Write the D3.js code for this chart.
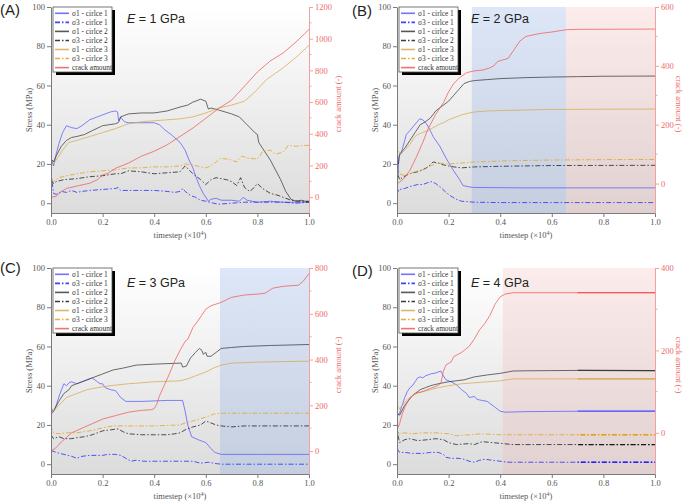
<!DOCTYPE html>
<html><head><meta charset="utf-8">
<script src="https://cdn.jsdelivr.net/npm/d3@7"></script>
<style>
body{margin:0;background:#fff}
svg text{font-family:"Liberation Serif","Times New Roman",serif}
</style>
</head><body>
<svg id="c" width="685" height="501"></svg>
<script>
// ---------- DATA ----------
const panelIds = ["A","B","C","D"];
const moduli = ["1","2","3","4"];
const crackMax = [1200, 600, 800, 400];
const legendLabels = ["σ1 - cirlce 1","σ3 - cirlce 1","σ1 - cirlce 2","σ3 - cirlce 2","σ1 - cirlce 3","σ3 - cirlce 3","crack amount"];
const xTicks = [0,0.2,0.4,0.6,0.8,1.0];
const yTicks = [0,20,40,60,80,100];

// Panel A (E = 1 GPa)
const A_s1c1 = [[0,20],[0.005,21],[0.01,19],[0.015,22],[0.02,25],[0.03,30],[0.045,36],[0.06,39.5],[0.07,39],[0.08,38.5],[0.1,38],[0.12,39.5],[0.15,42.5],[0.18,44],[0.2,45],[0.23,46.5],[0.25,47],[0.258,46.5],[0.262,42],[0.27,44],[0.275,43],[0.285,41.5],[0.3,41],[0.35,41],[0.4,41],[0.42,40],[0.44,37.5],[0.47,34.5],[0.5,31],[0.52,27],[0.535,22],[0.55,18],[0.56,14],[0.575,9],[0.59,5],[0.61,1],[0.62,2],[0.64,2.5],[0.66,1.5],[0.7,1.5],[0.73,1],[0.745,3],[0.76,1.5],[0.8,0.5],[0.85,1],[0.9,0.5],[0.95,0.5],[1,0.5]];
const A_s3c1 = [[0,16],[0.005,10],[0.01,5],[0.02,4.5],[0.04,6],[0.06,5.5],[0.08,6.5],[0.1,5.5],[0.12,6],[0.15,6.5],[0.2,7],[0.25,7.5],[0.26,8],[0.27,6.5],[0.3,6.5],[0.35,6.5],[0.4,6.5],[0.45,6],[0.48,5.5],[0.5,6],[0.51,7.5],[0.52,6],[0.54,4],[0.56,3],[0.58,1.5],[0.6,1],[0.63,0],[0.65,-0.5],[0.7,0],[0.75,0.5],[0.8,0.5],[0.85,0.5],[0.9,0.5],[0.95,0],[1,0.5]];
const A_s1c2 = [[0,20],[0.005,22],[0.01,21],[0.02,24],[0.04,29],[0.06,32],[0.08,33.5],[0.1,34],[0.13,35],[0.16,37],[0.2,39.5],[0.25,40.5],[0.26,41],[0.265,42],[0.27,44],[0.28,44.5],[0.3,45.5],[0.35,46],[0.4,46],[0.45,47],[0.5,49],[0.53,50],[0.55,51.5],[0.58,53],[0.6,52],[0.61,48],[0.62,48.5],[0.65,47.5],[0.7,45.5],[0.73,44],[0.76,40],[0.79,36],[0.8,35],[0.805,31],[0.82,28],[0.85,22],[0.87,17],[0.89,12],[0.91,6],[0.93,2],[0.95,1],[0.97,1.5],[1,0.5]];
const A_s3c2 = [[0,12],[0.01,10],[0.02,11],[0.05,12],[0.1,12.5],[0.15,13.5],[0.2,14],[0.25,15],[0.27,15],[0.3,16.5],[0.35,16],[0.4,15],[0.45,15.5],[0.5,16],[0.52,19],[0.55,15],[0.58,12],[0.6,9.5],[0.62,12],[0.64,13],[0.68,12],[0.7,11],[0.72,9],[0.735,13],[0.75,8],[0.77,6],[0.78,7],[0.8,10],[0.82,7.5],[0.85,5],[0.88,4],[0.9,3],[0.93,1.5],[0.96,1],[1,1]];
const A_s1c3 = [[0,19],[0.01,20],[0.03,24],[0.05,28],[0.07,31],[0.1,32],[0.15,34],[0.2,36],[0.25,38],[0.3,40.5],[0.35,41.5],[0.4,42],[0.45,42.5],[0.5,43],[0.55,44],[0.6,46],[0.65,48.5],[0.7,50],[0.75,52],[0.78,55.5],[0.8,58],[0.835,63],[0.9,69],[0.96,75.5],[1,80.5]];
const A_s3c3 = [[0,12],[0.01,11],[0.03,13],[0.06,14],[0.1,15],[0.15,16],[0.2,16.5],[0.25,17],[0.3,18],[0.35,18],[0.4,18.5],[0.45,18.5],[0.5,19],[0.52,20],[0.55,19.5],[0.58,18.5],[0.6,18],[0.62,19],[0.64,21],[0.66,23],[0.68,22.5],[0.7,22],[0.72,21],[0.74,24],[0.76,23],[0.8,22.5],[0.81,24],[0.82,26.5],[0.85,27],[0.87,25],[0.9,26],[0.92,29.5],[0.95,29],[0.98,29.5],[1,29.5]];
const A_crack = [[0,0],[0.02,5],[0.04,35],[0.06,55],[0.1,70],[0.15,88],[0.18,110],[0.2,140],[0.22,150],[0.25,182],[0.3,215],[0.35,258],[0.4,290],[0.45,330],[0.5,383],[0.55,436],[0.6,498],[0.65,560],[0.7,612],[0.75,700],[0.8,790],[0.85,860],[0.9,910],[0.95,980],[1,1058]];

// Panel B (E = 2 GPa)
const B_s1c1 = [[0,27],[0.004,15],[0.008,24],[0.015,25],[0.03,32],[0.036,35],[0.05,37],[0.075,41],[0.088,43],[0.1,42.5],[0.114,40.5],[0.125,38],[0.14,34],[0.166,29],[0.19,23],[0.217,17],[0.243,12],[0.256,9],[0.28,8.3],[0.3,8],[0.5,7.8],[1,7.8]];
const B_s3c1 = [[0,8],[0.005,6],[0.01,7],[0.03,7.5],[0.05,8.5],[0.08,9.5],[0.1,9.5],[0.12,10.5],[0.135,11],[0.15,10],[0.17,8],[0.19,5.5],[0.21,3.5],[0.23,2],[0.25,1],[0.28,0.7],[0.3,0.5],[0.4,0.3],[1,0.3]];
const B_s1c2 = [[0,24],[0.005,20],[0.01,25],[0.03,28],[0.05,32],[0.07,36],[0.09,40],[0.11,41.5],[0.13,43.5],[0.15,47],[0.17,49],[0.2,52],[0.22,55],[0.24,58],[0.26,61],[0.28,62],[0.3,62.5],[0.35,63],[0.4,63.5],[0.5,64],[0.6,64.3],[0.7,64.5],[0.8,64.7],[1,64.8]];
const B_s3c2 = [[0,20],[0.005,14],[0.01,12],[0.02,13],[0.04,14.5],[0.06,15.5],[0.08,16],[0.1,17],[0.12,18.5],[0.14,21],[0.16,20.5],[0.18,19.5],[0.2,19],[0.22,18.5],[0.25,18],[0.3,18.5],[0.4,18.8],[0.5,19],[0.6,19.2],[1,19.3]];
const B_s1c3 = [[0,27],[0.005,26.5],[0.015,25],[0.03,27],[0.05,30],[0.07,34],[0.08,35],[0.1,36],[0.12,37],[0.14,38.5],[0.16,40],[0.18,41],[0.2,42.5],[0.22,43.5],[0.25,45],[0.28,46],[0.3,46.5],[0.35,47],[0.4,47.2],[0.5,47.5],[0.6,47.8],[0.8,47.9],[1,48]];
const B_s3c3 = [[0,20],[0.005,17],[0.01,15],[0.03,14],[0.05,15],[0.08,16.5],[0.1,17],[0.13,19],[0.16,20.5],[0.2,20],[0.25,20.5],[0.3,21],[0.4,21.5],[0.5,21.8],[0.6,22],[0.8,22.2],[1,22.3]];
const B_crack = [[0,0],[0.01,5],[0.03,20],[0.05,45],[0.075,90],[0.1,140],[0.12,185],[0.15,235],[0.18,275],[0.2,312],[0.22,340],[0.243,360],[0.27,377],[0.3,383],[0.334,386],[0.36,393],[0.375,400],[0.39,415],[0.41,420],[0.43,425],[0.45,450],[0.476,484],[0.5,500],[0.554,510],[0.6,515],[0.657,523],[0.7,524],[1,525]];

// Panel C (E = 3 GPa)
const C_s1c1 = [[0,29],[0.005,26],[0.01,27],[0.02,30],[0.035,36],[0.05,41],[0.06,40],[0.07,41.5],[0.08,42],[0.1,41],[0.12,42],[0.14,43],[0.16,44],[0.18,42],[0.19,41],[0.2,41],[0.21,39],[0.23,38],[0.25,37.5],[0.27,34],[0.29,32],[0.35,32],[0.45,32.5],[0.51,32.5],[0.52,27],[0.53,20],[0.545,14],[0.57,12.5],[0.6,11],[0.62,8],[0.635,6],[0.66,5],[0.8,5],[1,5]];
const C_s3c1 = [[0,7],[0.02,6],[0.05,5],[0.08,4],[0.1,3],[0.12,4],[0.15,4.5],[0.2,4.5],[0.22,5],[0.25,5],[0.27,4.5],[0.29,3],[0.31,1.5],[0.33,2],[0.36,1.5],[0.4,1.5],[0.45,1.5],[0.5,1.5],[0.55,1.5],[0.58,0.5],[0.61,1],[0.64,0.3],[0.66,0],[0.8,0],[1,0]];
const C_s1c2 = [[0,28],[0.01,27],[0.03,32],[0.05,36],[0.07,38],[0.08,40],[0.1,41],[0.12,42],[0.14,43],[0.16,44],[0.2,46],[0.24,48],[0.28,49],[0.33,50.5],[0.4,51],[0.5,51.5],[0.505,51.5],[0.51,49.5],[0.525,50],[0.54,54],[0.56,57],[0.575,59],[0.585,58],[0.59,56],[0.6,57],[0.605,55],[0.62,55],[0.64,57],[0.66,59],[0.7,59.5],[0.75,60],[0.85,60.5],[1,61]];
const C_s3c2 = [[0,15],[0.01,13],[0.03,14],[0.05,13],[0.08,13],[0.1,13.5],[0.13,14],[0.16,15],[0.2,17],[0.23,17.5],[0.26,18],[0.28,16.5],[0.3,15.5],[0.35,15],[0.4,15],[0.45,15],[0.48,15.5],[0.5,16],[0.52,17.5],[0.55,19],[0.58,20],[0.6,22],[0.62,21],[0.64,20],[0.66,19.5],[0.7,19],[0.75,19.5],[0.85,19.5],[1,19.5]];
const C_s1c3 = [[0,29],[0.01,27],[0.03,30],[0.06,34],[0.1,36],[0.14,38],[0.18,39],[0.23,40],[0.3,41],[0.4,42],[0.5,42.5],[0.53,43.5],[0.56,45],[0.6,47],[0.63,49],[0.66,50.5],[0.7,51.5],[0.8,52],[0.9,52.3],[1,52.5]];
const C_s3c3 = [[0,20],[0.005,17],[0.01,16],[0.03,15.5],[0.06,16],[0.1,16],[0.15,17],[0.2,18.5],[0.24,19.5],[0.3,19.5],[0.4,19.5],[0.5,20],[0.52,21],[0.55,22],[0.6,24],[0.63,25.5],[0.66,26],[0.7,26],[0.8,26],[1,26]];
const C_crack = [[0,0],[0.02,15],[0.04,40],[0.06,60],[0.08,80],[0.1,90],[0.13,105],[0.16,120],[0.2,140],[0.25,155],[0.3,170],[0.35,178],[0.39,181],[0.4,186],[0.41,205],[0.42,240],[0.44,290],[0.46,340],[0.48,395],[0.5,440],[0.52,480],[0.53,488],[0.55,540],[0.57,570],[0.6,620],[0.62,635],[0.66,650],[0.7,672],[0.75,682],[0.8,686],[0.83,690],[0.86,712],[0.9,720],[0.96,725],[0.98,745],[1,776]];

// Panel D (E = 4 GPa)
const D_s1c1 = [[0,27],[0.005,25],[0.01,26],[0.02,30],[0.03,34],[0.04,37],[0.05,39],[0.06,40],[0.07,42],[0.08,44],[0.09,44.5],[0.1,44],[0.11,45],[0.13,46],[0.15,46.5],[0.17,47.5],[0.175,46],[0.19,43],[0.21,42],[0.23,40.5],[0.25,38],[0.27,36],[0.28,34],[0.3,34.5],[0.31,33],[0.33,32.5],[0.35,32],[0.36,31],[0.38,29],[0.4,27],[0.42,26.5],[0.5,26.8],[0.7,27],[1,27]];
const D_s3c1 = [[0,8],[0.005,7],[0.01,6],[0.03,6],[0.06,5.5],[0.1,5.5],[0.13,6],[0.16,6],[0.18,5],[0.19,3.5],[0.21,3],[0.24,3],[0.26,2.5],[0.28,1.5],[0.3,1],[0.32,2],[0.34,2.5],[0.37,2],[0.4,1.5],[0.43,1],[0.5,1],[1,1]];
const D_s1c2 = [[0,26],[0.01,25],[0.03,30],[0.06,35],[0.09,38],[0.11,39],[0.13,40],[0.16,41],[0.2,42],[0.26,43],[0.3,44.5],[0.35,45.5],[0.4,46.3],[0.45,47.5],[0.5,47.6],[0.6,47.7],[0.7,47.8],[1,47.7]];
const D_s3c2 = [[0,20],[0.005,14],[0.01,11],[0.03,12.5],[0.05,13],[0.08,12],[0.12,12.5],[0.15,13],[0.18,12.5],[0.2,11],[0.23,10],[0.28,10.5],[0.3,10],[0.33,11.5],[0.37,11],[0.41,10.5],[0.45,10],[0.5,10],[1,10]];
const D_s1c3 = [[0,30],[0.01,28],[0.02,30],[0.05,34],[0.08,36.5],[0.1,37],[0.13,38],[0.16,39],[0.2,40],[0.25,41],[0.3,41.5],[0.35,42],[0.4,42.5],[0.45,43.5],[0.5,43.5],[0.7,43.5],[1,43.5]];
const D_s3c3 = [[0,18],[0.005,15],[0.01,15.5],[0.03,16],[0.06,15.5],[0.1,16],[0.15,16],[0.2,15.5],[0.23,14.5],[0.28,15],[0.33,15.5],[0.4,15],[0.5,15],[1,15]];
const D_crack = [[0,10],[0.005,14],[0.01,22],[0.02,45],[0.03,62],[0.05,85],[0.07,95],[0.1,100],[0.13,108],[0.15,112],[0.17,120],[0.18,150],[0.19,165],[0.21,172],[0.22,185],[0.25,195],[0.28,210],[0.3,228],[0.32,250],[0.34,265],[0.36,285],[0.38,312],[0.4,330],[0.42,337],[0.45,340],[0.7,340],[1,340]];

// shaded stages [start, end, kind]
const shadesA = [];
const shadesB = [[0.29,0.655,"blue"],[0.655,1.0,"pink"]];
const shadesC = [[0.655,1.0,"blue"]];
const shadesD = [[0.41,1.0,"pink"]];

// ---------- LAYOUT / STYLE ----------
const W = 258, H = 206;
const layout = [
  {px:51,  py:7,   lab:[0,15],    eLab:[127,23],  rot:-90, rx:341},
  {px:397, py:7,   lab:[352,16],  eLab:[471,23],  rot:90,  rx:676},
  {px:51,  py:268, lab:[0,273],   eLab:[127,287], rot:-90, rx:341},
  {px:397, py:268, lab:[352,276], eLab:[471,287], rot:90,  rx:676}
];
const dd = "5,2,1.5,2";
const styles = [
  {c:"#5a5aff", d:null},
  {c:"#2020ff", d:dd},
  {c:"#3c3c3c", d:null},
  {c:"#1a1a1a", d:dd},
  {c:"#d6aa50", d:null},
  {c:"#e2a018", d:dd},
  {c:"#f05a5a", d:null}
];
const panelData = [
  {series:[A_s1c1,A_s3c1,A_s1c2,A_s3c2,A_s1c3,A_s3c3], crack:A_crack, shades:shadesA},
  {series:[B_s1c1,B_s3c1,B_s1c2,B_s3c2,B_s1c3,B_s3c3], crack:B_crack, shades:shadesB},
  {series:[C_s1c1,C_s3c1,C_s1c2,C_s3c2,C_s1c3,C_s3c3], crack:C_crack, shades:shadesC},
  {series:[D_s1c1,D_s3c1,D_s1c2,D_s3c2,D_s1c3,D_s3c3], crack:D_crack, shades:shadesD}
];

const svg = d3.select("#c");
const defs = svg.append("defs");
const grad = defs.append("linearGradient").attr("id","bg").attr("x1",0).attr("y1",0).attr("x2",0).attr("y2",1);
grad.append("stop").attr("offset","0%").attr("stop-color","#ffffff");
grad.append("stop").attr("offset","100%").attr("stop-color","#dcdcdc");

panelIds.forEach((id, i) => {
  const L = layout[i], P = panelData[i];
  const x = d3.scaleLinear().domain([0,1]).range([L.px, L.px+W]);
  const y = d3.scaleLinear().domain([-5,100]).range([L.py+H, L.py]);
  const yr = d3.scaleLinear().domain([-100, crackMax[i]]).range([L.py+H, L.py]);
  const g = svg.append("g");

  defs.append("clipPath").attr("id","clip"+id)
    .append("rect").attr("x",L.px).attr("y",L.py).attr("width",W).attr("height",H);
  defs.append("clipPath").attr("id","clipLate"+id)
    .append("rect").attr("x",x(0.7)).attr("y",L.py).attr("width",x(1)-x(0.7)).attr("height",H);

  g.append("rect").attr("x",L.px).attr("y",L.py).attr("width",W).attr("height",H).attr("fill","url(#bg)");
  P.shades.forEach(s => {
    g.append("rect").attr("x",x(s[0])).attr("y",L.py).attr("width",x(s[1])-x(s[0])).attr("height",H)
      .attr("fill", s[2]==="blue" ? "#8fb0e8" : "#f6a8a8")
      .attr("opacity", s[2]==="blue" ? 0.3 : 0.22);
  });

  const line = d3.line().x(d=>x(d[0])).y(d=>y(d[1]));
  const lineR = d3.line().x(d=>x(d[0])).y(d=>yr(d[1]));
  const lg = g.append("g").attr("clip-path","url(#clip"+id+")");
  function drawLines(target, op, sw){
    P.series.forEach((s, k) => {
      target.append("path").attr("d", line(s)).attr("fill","none")
        .attr("stroke", styles[k].c).attr("stroke-width", sw)
        .attr("stroke-dasharray", styles[k].d).attr("opacity", op);
    });
    target.append("path").attr("d", lineR(P.crack)).attr("fill","none")
      .attr("stroke", styles[6].c).attr("stroke-width", sw).attr("opacity", op);
  }
  drawLines(lg, 0.75, 1);
  if (id === "D") {
    const late = g.append("g").attr("clip-path","url(#clipLate"+id+")");
    drawLines(late, 1, 1.3);
  }

  // axes
  const serif = "'Liberation Serif','Times New Roman',serif";
  const ax = g.append("g").attr("transform",`translate(0,${L.py+H})`)
    .call(d3.axisBottom(x).tickValues(xTicks).tickFormat(d3.format(".1f")).tickSize(4).tickSizeOuter(0).tickPadding(2));
  const ay = g.append("g").attr("transform",`translate(${L.px},0)`)
    .call(d3.axisLeft(y).tickValues(yTicks).tickFormat(d3.format("d")).tickSize(4).tickSizeOuter(0).tickPadding(2));
  [ax, ay].forEach(a => {
    a.attr("font-family", serif);
    a.select(".domain").attr("stroke","#7a7a7a");
    a.selectAll(".tick line").attr("stroke","#7a7a7a");
    a.selectAll("text").attr("fill","#555").style("font-size","8.5px").style("font-family",serif);
  });
  const majorR = d3.range(0, crackMax[i]+1, 200);
  const minorR = d3.range(100, crackMax[i], 200);
  const ar = g.append("g").attr("transform",`translate(${L.px+W},0)`)
    .call(d3.axisRight(yr).tickValues(majorR).tickFormat(d3.format("d")).tickSize(4).tickSizeOuter(0).tickPadding(2));
  ar.attr("font-family", serif);
  ar.select(".domain").attr("stroke","#f3a0a0");
  ar.selectAll(".tick line").attr("stroke","#f3a0a0");
  ar.selectAll("text").attr("fill","#ee6a6a").style("font-size","8.5px").style("font-family",serif);
  g.append("g").selectAll("line").data(minorR).join("line")
    .attr("x1",L.px+W).attr("x2",L.px+W+2.5).attr("y1",d=>yr(d)).attr("y2",d=>yr(d)).attr("stroke","#f3a0a0");

  // axis titles
  g.append("text").attr("transform",`translate(${L.px-19},${L.py+H/2}) rotate(-90)`)
    .attr("text-anchor","middle").attr("fill","#555").style("font-size","8.5px").text("Stress (MPa)");
  const tt = g.append("text").attr("x", L.px+W/2).attr("y", L.py+H+25).attr("text-anchor","middle")
    .attr("fill","#555").style("font-size","8.5px");
  tt.append("tspan").text("timestep (×10");
  tt.append("tspan").attr("dy",-3).style("font-size","6px").text("4");
  tt.append("tspan").attr("dy",3).text(")");
  g.append("text").attr("transform",`translate(${L.rx},${L.py+97}) rotate(${L.rot})`)
    .attr("text-anchor","middle").attr("fill","#ee6a6a").style("font-size","8.5px").text("crack amount (-)");

  // legend
  const lx = L.px+2, ly = L.py, lw = 59, lh = 65;
  g.append("rect").attr("x",lx+3).attr("y",ly+3).attr("width",lw).attr("height",lh).attr("fill","#000");
  g.append("rect").attr("x",lx).attr("y",ly).attr("width",lw).attr("height",lh).attr("fill","#fff").attr("stroke","#555").attr("stroke-width",0.8);
  legendLabels.forEach((t, k) => {
    const cy = ly + 6.3 + k*9.05;
    g.append("line").attr("x1",lx+2).attr("x2",lx+16).attr("y1",cy).attr("y2",cy)
      .attr("stroke", styles[k].c).attr("stroke-width",1.6).attr("stroke-dasharray", styles[k].d).attr("opacity",0.85);
    g.append("text").attr("x",lx+19).attr("y",cy+2.6).attr("fill","#333").style("font-size","7.4px").text(t);
  });

  // panel label and modulus
  g.append("text").attr("x",L.lab[0]).attr("y",L.lab[1]).attr("fill","#222")
    .style("font-family","'Liberation Sans',Arial,sans-serif").style("font-size","15px").text("("+id+")");
  const et = g.append("text").attr("x",L.eLab[0]).attr("y",L.eLab[1]).attr("fill","#222")
    .style("font-family","'Liberation Sans',Arial,sans-serif").style("font-size","12.5px");
  et.append("tspan").style("font-style","italic").text("E");
  et.append("tspan").text(" = " + moduli[i] + " GPa");
});
</script>
</body></html>
